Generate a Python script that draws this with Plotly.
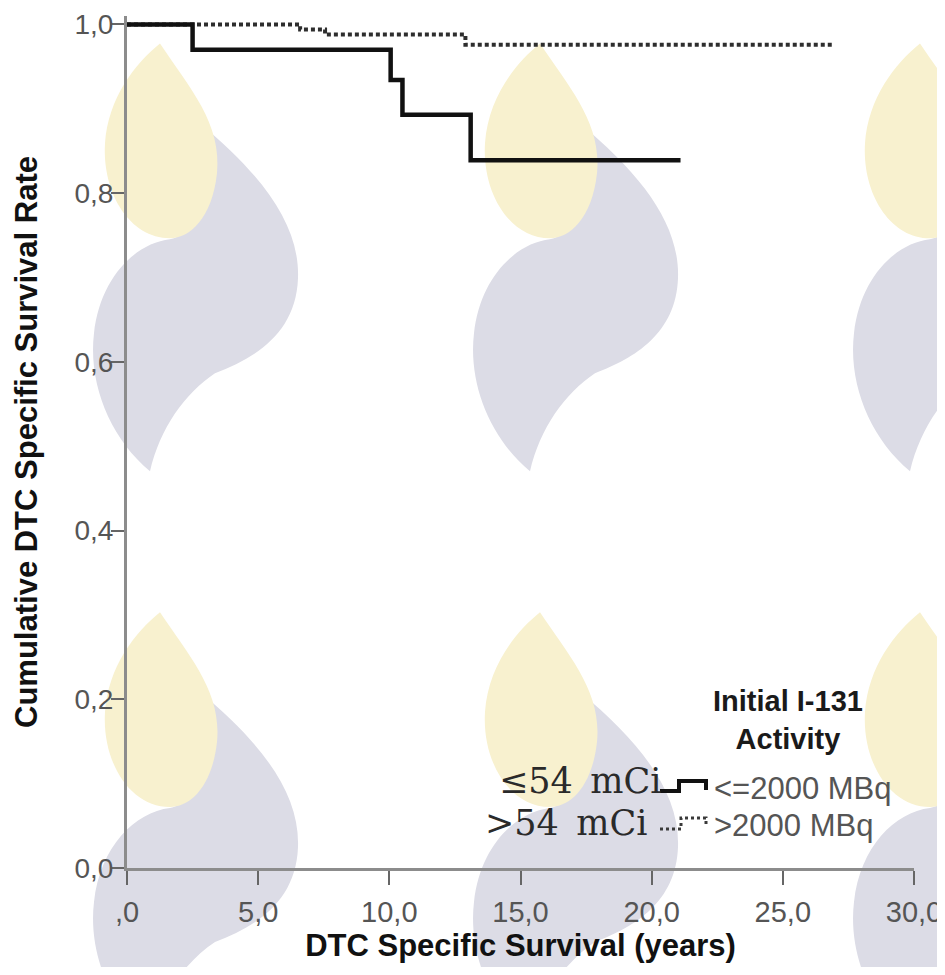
import plotly.graph_objects as go

# ---------------- data ----------------
low_time = [0.0, 2.5, 10.05, 10.5, 13.1, 21.1]
low_surv = [1.0, 0.970, 0.934, 0.893, 0.839, 0.839]
high_time = [0.0, 6.6, 7.55, 12.9, 26.9]
high_surv = [1.0, 0.994, 0.988, 0.976, 0.976]

x_tickvals = [0, 5, 10, 15, 20, 25, 30]
x_ticktext = [",0", "5,0", "10,0", "15,0", "20,0", "25,0", "30,0"]
y_tickvals = [0.0, 0.2, 0.4, 0.6, 0.8, 1.0]
y_ticktext = ["0,0", "0,2", "0,4", "0,6", "0,8", "1,0"]

legend_title = "<b>Initial I-131</b><br><b>Activity</b>"
legend_labels = ["<=2000 MBq", ">2000 MBq"]
overlay_labels = ["≤54\u2002mCi", ">54\u2002mCi"]

# ---------------- layout geometry (pixels) ----------------
# the page body adds an 8px margin on every side, so the figure is sized
# to fit inside it (no scrollbars) and placed with screen coordinates.
OFF = 8
W, H = 945 - OFF, 975 - 2 * OFF
Y_TOP = 1.01
Y1_PIX, Y0_PIX = 24, 868                                  # screen pixels of y=1 and y=0
PLOT_L, PLOT_R = 127, 914
PLOT_B = Y0_PIX
PLOT_T = Y0_PIX - (Y0_PIX - Y1_PIX) * Y_TOP
ML, MT = PLOT_L - OFF, PLOT_T - OFF
MR, MB = W - (PLOT_R - OFF), H - (PLOT_B - OFF)
PW = W - ML - MR
PH = H - MT - MB

def px(x):
    """screen x pixel -> paper fraction"""
    return (x - OFF - ML) / PW

def py(y):
    """screen y pixel -> paper fraction"""
    return (H - MB - (y - OFF)) / PH

SANS = "Liberation Sans Narrow, Liberation Sans, Arial, sans-serif"
SERIF = "DejaVu Serif, serif"

fig = go.Figure()
fig.add_trace(go.Scatter(
    x=high_time, y=high_surv, mode="lines", line_shape="hv",
    line=dict(color="#2e2e2e", width=4, dash="4px,3px"),
    name=legend_labels[1], showlegend=False, hoverinfo="skip"))
fig.add_trace(go.Scatter(
    x=low_time, y=low_surv, mode="lines", line_shape="hv",
    line=dict(color="#111111", width=4.5),
    name=legend_labels[0], showlegend=False, hoverinfo="skip"))

# ---------------- watermark logos ----------------
gray_tpl = [("M", 40, 80), ("C", 100, 130, 140, 180, 138, 235),
            ("C", 136, 290, 95, 315, 55, 330), ("C", 25, 350, 0, 385, -10, 428),
            ("C", -50, 395, -72, 340, -66, 290), ("C", -60, 235, -25, 200, 10, 196),
            ("C", 40, 190, 60, 140, 40, 80)]
yellow_tpl = [("M", 0, 0), ("C", 30, 45, 62, 80, 57, 130),
              ("C", 52, 175, 30, 195, 10, 195), ("C", -30, 195, -58, 150, -55, 100),
              ("C", -52, 55, -25, 20, 0, 0)]

def make_path(tpl, ox, oy):
    parts = []
    for seg in tpl:
        cmd, vals = seg[0], seg[1:]
        pts = []
        for i in range(0, len(vals), 2):
            pts.append(f"{px(ox + vals[i]):.5f},{py(oy + vals[i + 1]):.5f}")
        parts.append(cmd + " " + " ".join(pts))
    return " ".join(parts) + " Z"

logo_origins = [(160, 43), (540, 43), (920, 43), (160, 612), (540, 612), (920, 612)]
for ox, oy in logo_origins:
    fig.add_shape(type="path", xref="paper", yref="paper", layer="below",
                  path=make_path(gray_tpl, ox, oy),
                  fillcolor="#dcdce6", line=dict(width=0))
    fig.add_shape(type="path", xref="paper", yref="paper", layer="below",
                  path=make_path(yellow_tpl, ox, oy),
                  fillcolor="#f8f1cf", line=dict(width=0))

# ---------------- legend (drawn manually) ----------------
fig.add_annotation(xref="paper", yref="paper", x=px(788), y=py(720),
                   text=legend_title, showarrow=False,
                   xanchor="center", yanchor="middle", align="center",
                   font=dict(family=SANS, size=29, color="#1a1a1a"))
fig.add_shape(type="path", xref="paper", yref="paper",
              path=f"M {px(660)},{py(791)} L {px(679)},{py(791)} L {px(679)},{py(781)} "
                   f"L {px(706)},{py(781)} L {px(706)},{py(790)}",
              line=dict(color="#111111", width=4))
fig.add_shape(type="path", xref="paper", yref="paper",
              path=f"M {px(660)},{py(829)} L {px(681)},{py(829)} L {px(681)},{py(818)} "
                   f"L {px(706)},{py(818)} L {px(706)},{py(826)}",
              line=dict(color="#3a3a3a", width=3, dash="dot"))
fig.add_annotation(xref="paper", yref="paper", x=px(712), y=py(788),
                   text=legend_labels[0], showarrow=False, xanchor="left", yanchor="middle",
                   font=dict(family=SANS, size=31, color="#555555"))
fig.add_annotation(xref="paper", yref="paper", x=px(712), y=py(825),
                   text=legend_labels[1], showarrow=False, xanchor="left", yanchor="middle",
                   font=dict(family=SANS, size=31, color="#555555"))
fig.add_annotation(xref="paper", yref="paper", x=px(664), y=py(781),
                   text=overlay_labels[0], showarrow=False, xanchor="right", yanchor="middle",
                   font=dict(family=SERIF, size=35, color="#2a2a2a"))
fig.add_annotation(xref="paper", yref="paper", x=px(650), y=py(823),
                   text=overlay_labels[1], showarrow=False, xanchor="right", yanchor="middle",
                   font=dict(family=SERIF, size=35, color="#2a2a2a"))

fig.update_layout(
    width=W, height=H,
    margin=dict(l=ML, r=MR, t=MT, b=MB, pad=0, autoexpand=False),
    paper_bgcolor="white", plot_bgcolor="white",
    showlegend=False,
    xaxis=dict(range=[0, 30], tickvals=x_tickvals, ticktext=x_ticktext,
               automargin=False, ticklabeloverflow="allow",
               showgrid=False, zeroline=False, showline=True,
               linecolor="#8c8c8c", linewidth=3, ticks="outside", ticklen=14,
               tickwidth=2, tickcolor="#666666", ticklabelstandoff=2,
               tickfont=dict(family=SANS, size=29, color="#555555"),
               title=dict(text="<b>DTC Specific Survival (years)</b>", standoff=8,
                          font=dict(family=SANS, size=31, color="#111111"))),
    yaxis=dict(range=[0, Y_TOP], tickvals=y_tickvals, ticktext=y_ticktext,
               automargin=False, ticklabeloverflow="allow",
               showgrid=False, zeroline=False, showline=True,
               linecolor="#8c8c8c", linewidth=3, ticks="outside", ticklen=13,
               tickwidth=2, tickcolor="#666666", ticklabelstandoff=-8,
               tickfont=dict(family=SANS, size=28, color="#555555"),
               title=dict(text="<b>Cumulative DTC Specific Survival Rate</b>", standoff=28,
                          font=dict(family=SANS, size=31, color="#111111"))),
)

fig.write_html("out.html")
